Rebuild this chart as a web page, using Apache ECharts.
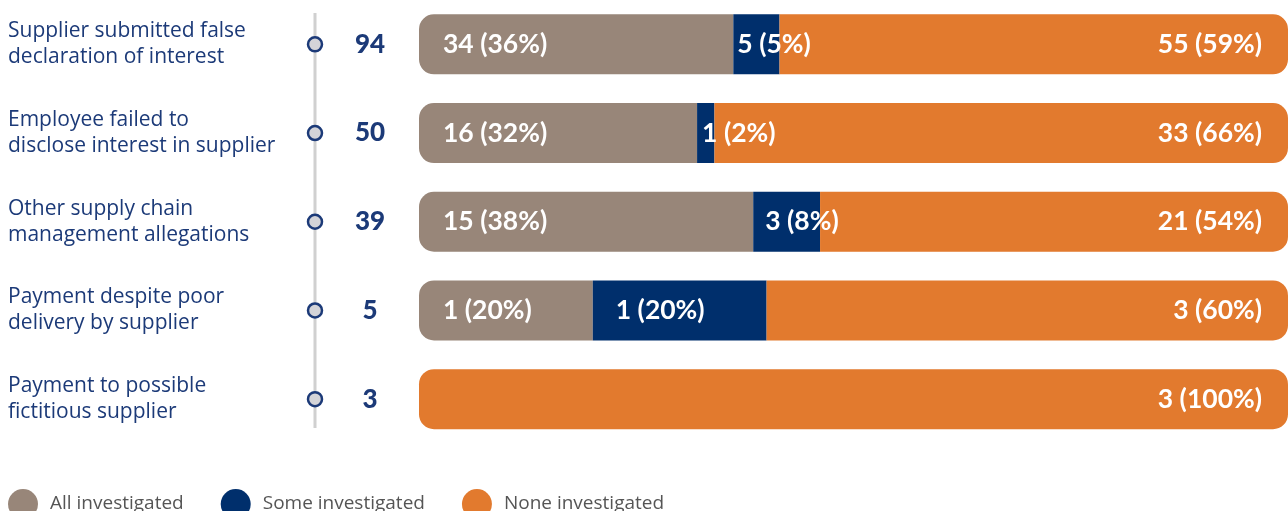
<!DOCTYPE html>
<html>
<head>
<meta charset="utf-8">
<script src="https://cdn.jsdelivr.net/npm/echarts@6/dist/echarts.min.js"></script>
<style>
    html, body { margin: 0; padding: 0; background: #fff; }
    #main { width: 1288px; height: 511px; }
</style>
</head>
<body>
<div id="main"></div>
<script>
    // categories (top to bottom)
    const categories = [
        'Supplier submitted false\ndeclaration of interest',
        'Employee failed to\ndisclose interest in supplier',
        'Other supply chain\nmanagement allegations',
        'Payment despite poor\ndelivery by supplier',
        'Payment to possible\nfictitious supplier'
    ];
    const allInvestigated = [34, 16, 15, 1, 0];
    const someInvestigated = [5, 1, 3, 1, 0];
    const noneInvestigated = [55, 33, 21, 3, 3];

    const totals = categories.map((c, i) => allInvestigated[i] + someInvestigated[i] + noneInvestigated[i]);

    const GRAY = '#988679';
    const NAVY = '#002f6c';
    const ORANGE = '#e27a2e';
    const TEXT_NAVY = '#1c3a78';

    const seriesDefs = [
        {name: 'All investigated', values: allInvestigated, color: GRAY},
        {name: 'Some investigated', values: someInvestigated, color: NAVY},
        {name: 'None investigated', values: noneInvestigated, color: ORANGE}
    ];
    // label spacing inside the navy segments
    const navyGap = [4, 5, 12, 23, 0];
    const R = 15;

    function radiusFor(si, i) {
        // round only the outer ends of the whole stacked bar
        let first = -1, last = -1;
        seriesDefs.forEach((s, k) => {
            if (s.values[i] > 0) { if (first < 0) first = k; last = k; }
        });
        return [si === first ? R : 0, si === last ? R : 0, si === last ? R : 0, si === first ? R : 0];
    }

    const barSeries = seriesDefs.map((s, si) => ({
        name: s.name,
        type: 'bar',
        stack: 'total',
        barWidth: 60,
        xAxisIndex: 0,
        yAxisIndex: 0,
        itemStyle: {color: s.color},
        data: s.values.map((v, i) => {
            const item = {
                value: v / totals[i],
                itemStyle: {borderRadius: radiusFor(si, i)},
                label: {}
            };
            if (si === 1) item.label.distance = navyGap[i];
            return item;
        }),
        label: {
            show: true,
            position: si === 2 ? 'insideRight' : 'insideLeft',
            distance: si === 0 ? 24 : (si === 2 ? 26 : 5),
            color: '#fff',
            fontFamily: 'Lato',
            fontWeight: 'bold',
            fontSize: 26.5,
            formatter: p => {
                const v = s.values[p.dataIndex];
                if (!v) return '';
                return v + ' (' + Math.round(v / totals[p.dataIndex] * 100) + '%)';
            }
        },
        emphasis: {disabled: true}
    }));

    let myChart = echarts.init(document.getElementById('main'), null, {renderer: 'canvas'});
    myChart.setOption({
        animation: false,
        grid: [
            {left: 419, right: 0, top: -1.5, height: 445},
            {left: 305, width: 20, top: -1.5, height: 445}
        ],
        legend: {
            left: 3,
            top: 484,
            icon: 'circle',
            itemWidth: 30,
            itemHeight: 32,
            itemGap: 37,
            textStyle: {
                fontFamily: 'Open Sans',
                fontSize: 19,
                color: '#555',
                padding: [0, 0, 0, 7]
            },
            data: seriesDefs.map(s => s.name)
        },
        graphic: [{
            type: 'line',
            z: 0,
            shape: {x1: 315, y1: 13, x2: 315, y2: 428},
            style: {stroke: '#d0d0d0', lineWidth: 3}
        }],
        xAxis: [
            {type: 'value', gridIndex: 0, min: 0, max: 1, show: false},
            {type: 'value', gridIndex: 1, min: -1, max: 1, show: false}
        ],
        yAxis: [
            {
                type: 'category',
                gridIndex: 0,
                inverse: true,
                data: categories,
                axisLine: {show: false},
                axisTick: {show: false},
                axisLabel: {
                    align: 'left',
                    margin: 411,
                    color: TEXT_NAVY,
                    fontFamily: 'Open Sans',
                    fontSize: 21,
                    lineHeight: 26
                }
            },
            {
                type: 'category',
                gridIndex: 0,
                position: 'left',
                inverse: true,
                data: totals.map(String),
                axisLine: {show: false},
                axisTick: {show: false},
                axisLabel: {
                    align: 'center',
                    margin: 49,
                    color: TEXT_NAVY,
                    fontFamily: 'Lato',
                    fontWeight: 900,
                    fontSize: 26
                }
            },
            {
                type: 'category',
                gridIndex: 1,
                inverse: true,
                data: categories,
                show: false
            }
        ],
        series: barSeries.concat([{
            type: 'scatter',
            xAxisIndex: 1,
            yAxisIndex: 2,
            symbolSize: 14,
            z: 5,
            itemStyle: {color: '#d4d4d8', borderColor: TEXT_NAVY, borderWidth: 2.5, opacity: 1},
            data: categories.map((c, i) => [0, i]),
            emphasis: {disabled: true}
        }])
    });
</script>
</body>
</html>
